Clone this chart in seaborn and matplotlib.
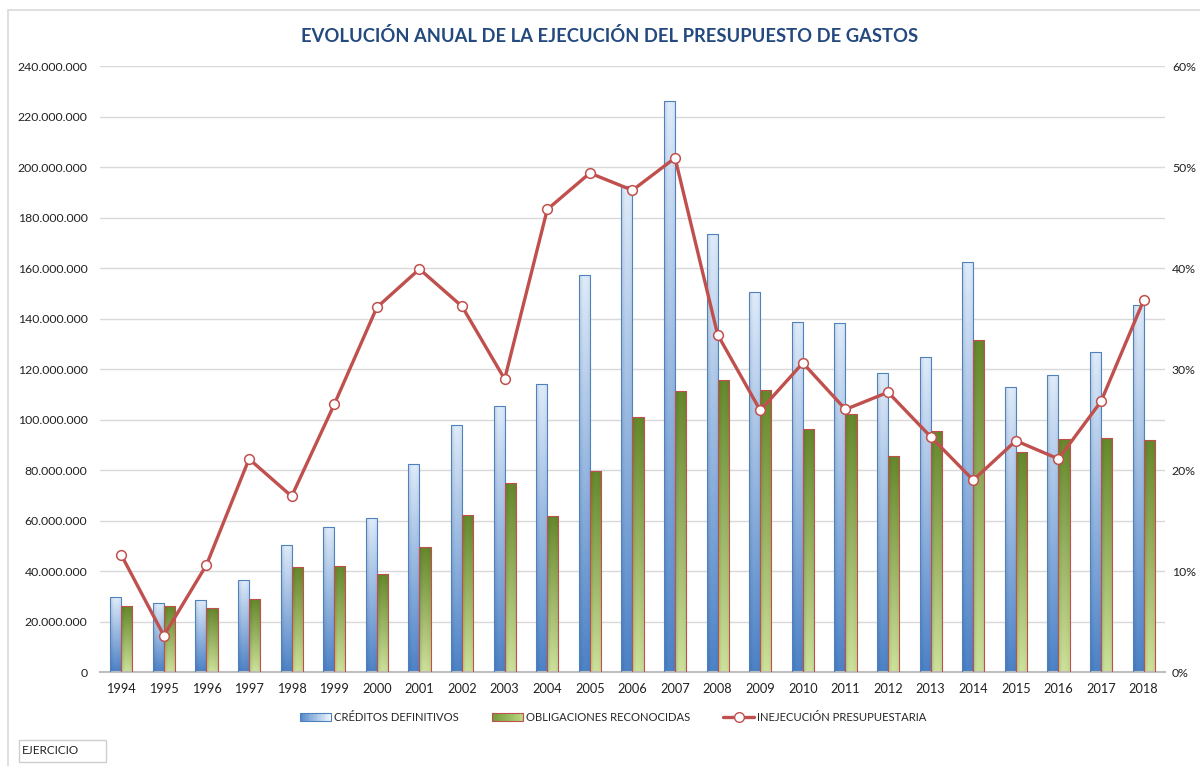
import matplotlib
matplotlib.use("Agg")
import matplotlib.pyplot as plt
import matplotlib.patches as mpatches
import matplotlib.ticker as mticker
from matplotlib.legend_handler import HandlerBase
from matplotlib.lines import Line2D
import numpy as np
import pandas as pd
import seaborn as sns

# ── Data ──────────────────────────────────────────────────────────────────────
years = [str(y) for y in range(1994, 2019)]

# millions of euros
creditos = [29.7, 27.2, 28.5, 36.6, 50.2, 57.6, 60.8, 82.2, 97.8, 105.5, 114.0,
            157.2, 192.4, 226.0, 173.6, 150.6, 138.6, 138.2, 118.5, 124.6,
            162.2, 113.0, 117.5, 126.9, 145.3]
obligaciones = [26.1, 26.0, 25.3, 28.9, 41.5, 42.1, 38.7, 49.4, 62.2, 74.7, 61.9,
                79.6, 100.9, 111.2, 115.8, 111.5, 96.2, 102.2, 85.5, 95.6,
                131.4, 87.0, 92.4, 92.8, 91.9]
# percent
inejecucion = [11.6, 3.6, 10.6, 21.1, 17.4, 26.5, 36.1, 39.9, 36.2, 29.0, 45.8,
               49.4, 47.7, 50.9, 33.4, 25.9, 30.6, 26.0, 27.7, 23.3, 19.0,
               22.9, 21.1, 26.8, 36.8]

SERIES = ["CRÉDITOS DEFINITIVOS", "OBLIGACIONES RECONOCIDAS"]
LINE_LABEL = "INEJECUCIÓN PRESUPUESTARIA"
TITLE = "EVOLUCIÓN ANUAL DE LA EJECUCIÓN DEL PRESUPUESTO DE GASTOS"

# ── Style ────────────────────────────────────────────────────────────────────
sns.set_theme(style="white")
plt.rcParams["font.family"] = ["Lato", "DejaVu Sans"]

TITLE_COLOR = "#23497F"
RED = "#C0504D"
GRID = "#D9D9D9"
TICK_COLOR = "#222222"
# (top colour, bottom colour, edge colour) of each bar gradient
GRADIENTS = {
    SERIES[0]: ((0.87, 0.92, 0.98), (0.30, 0.51, 0.78), "#4F81BD"),
    SERIES[1]: ((0.40, 0.53, 0.17), (0.80, 0.88, 0.60), "#C0504D"),
}

df = pd.DataFrame({
    "year": years * 2,
    "value": np.array(creditos + obligaciones) * 1e6,
    "serie": [SERIES[0]] * len(years) + [SERIES[1]] * len(years),
})
df_line = pd.DataFrame({"year": years, "pct": np.array(inejecucion) / 100})


def _gradient(top, bottom, n=64):
    t = np.linspace(0, 1, n)[:, None, None]
    col = np.array(top)[None, None, :] * (1 - t) + np.array(bottom)[None, None, :] * t
    # slight horizontal shading
    s = np.array([0.93, 1.0, 1.0, 0.97])[None, :, None]
    return np.clip(col * s, 0, 1)


class GradientHandler(HandlerBase):
    def __init__(self, left, right, edge):
        super().__init__()
        self.left, self.right, self.edge = left, right, edge

    def create_artists(self, legend, orig, xd, yd, w, h, fs, trans):
        arts = []
        n = 12
        for i in range(n):
            t = i / (n - 1)
            c = np.array(self.left) * (1 - t) + np.array(self.right) * t
            arts.append(mpatches.Rectangle((xd + w * i / n, yd), w / n + 0.3, h,
                                           facecolor=c, edgecolor="none",
                                           transform=trans))
        arts.append(mpatches.Rectangle((xd, yd), w, h, facecolor="none",
                                       edgecolor=self.edge, lw=0.8, transform=trans))
        return arts


fig = plt.figure(figsize=(12, 7.66), dpi=100)
ax = fig.add_axes([0.0833, 0.1227, 0.8875, 0.7911])

sns.barplot(data=df, x="year", y="value", hue="serie", hue_order=SERIES,
            width=0.52, ax=ax, legend=False, saturation=1)

# replace flat fills with gradients clipped to each bar
for container, name in zip(ax.containers, SERIES):
    top, bottom, edge = GRADIENTS[name]
    img = _gradient(top, bottom)
    for bar in container:
        x0, y0, w, h = bar.get_x(), bar.get_y(), bar.get_width(), bar.get_height()
        bar.set_facecolor("none")
        bar.set_edgecolor(edge)
        bar.set_linewidth(0.8)
        bar.set_zorder(3)
        im = ax.imshow(img, extent=[x0, x0 + w, y0, y0 + h], aspect="auto",
                       zorder=2, interpolation="bilinear")
        im.set_clip_path(bar)

ax.set_xlim(-0.5, len(years) - 0.5)
ax.set_ylim(0, 240e6)
ax.yaxis.set_major_locator(mticker.MultipleLocator(20e6))
ax.yaxis.set_major_formatter(
    mticker.FuncFormatter(lambda v, _: f"{v:,.0f}".replace(",", ".")))
ax.yaxis.grid(True, color=GRID, lw=1)
ax.set_axisbelow(True)
ax.set_xlabel("")
ax.set_ylabel("")
for sp in ["top", "left", "right"]:
    ax.spines[sp].set_visible(False)
ax.spines["bottom"].set_color("#BFBFBF")
ax.spines["bottom"].set_linewidth(1.5)
ax.tick_params(axis="y", length=0, pad=9, labelsize=8.8, labelcolor=TICK_COLOR)
ax.tick_params(axis="x", length=0, pad=8, labelsize=9.2, labelcolor=TICK_COLOR)

# percentage line on the secondary axis
ax2 = ax.twinx()
sns.pointplot(data=df_line, x="year", y="pct", ax=ax2, color=RED,
              errorbar=None, markers="o")
for ln in ax2.lines:
    ln.set_linewidth(2.4)
    ln.set_markersize(7)
    ln.set_markerfacecolor("white")
    ln.set_markeredgecolor(RED)
    ln.set_markeredgewidth(1.1)
ax2.set_xlim(-0.5, len(years) - 0.5)
ax2.set_ylim(0, 0.60)
ax2.yaxis.set_major_locator(mticker.MultipleLocator(0.10))
ax2.yaxis.set_major_formatter(mticker.PercentFormatter(1.0, decimals=0))
ax2.set_ylabel("")
ax2.set_xlabel("")
ax2.grid(False)
for sp in ax2.spines.values():
    sp.set_visible(False)
ax2.tick_params(axis="y", length=0, pad=5, labelsize=8.8, labelcolor=TICK_COLOR)

fig.text(0.508, 0.953, TITLE, ha="center", va="center", fontsize=13.2,
         fontweight="bold", color=TITLE_COLOR)

handles = [mpatches.Patch(label=SERIES[0]), mpatches.Patch(label=SERIES[1]),
           Line2D([], [], color=RED, lw=2.4, marker="o", markersize=7,
                  markerfacecolor="white", markeredgecolor=RED, label=LINE_LABEL)]
fig.legend(handles=handles, loc="center", bbox_to_anchor=(0.511, 0.0627), ncol=3,
           frameon=False, fontsize=8.1, handlelength=2.8, handleheight=0.75,
           handletextpad=0.25, columnspacing=2.9,
           handler_map={
               handles[0]: GradientHandler((0.35, 0.55, 0.80), (0.93, 0.96, 0.99), "#4F81BD"),
               handles[1]: GradientHandler((0.45, 0.60, 0.22), (0.72, 0.84, 0.50), "#C0504D"),
           })

# outer chart frame and the "EJERCICIO" field box
fig.patches.append(mpatches.Rectangle((8 / 1200, -0.05), 1.1, 1.05 - 10 / 766,
                                      transform=fig.transFigure, fill=False,
                                      edgecolor="#D9D9D9", lw=1.2))
fig.patches.append(mpatches.Rectangle((19 / 1200, 1 - 762 / 766), 87 / 1200, 22 / 766,
                                      transform=fig.transFigure, facecolor="white",
                                      edgecolor="#CFCFCF", lw=1))
fig.text(22 / 1200, 1 - 751 / 766, "EJERCICIO", ha="left", va="center",
         fontsize=8.5, color=TICK_COLOR)

fig.savefig("out.png", dpi=100)
